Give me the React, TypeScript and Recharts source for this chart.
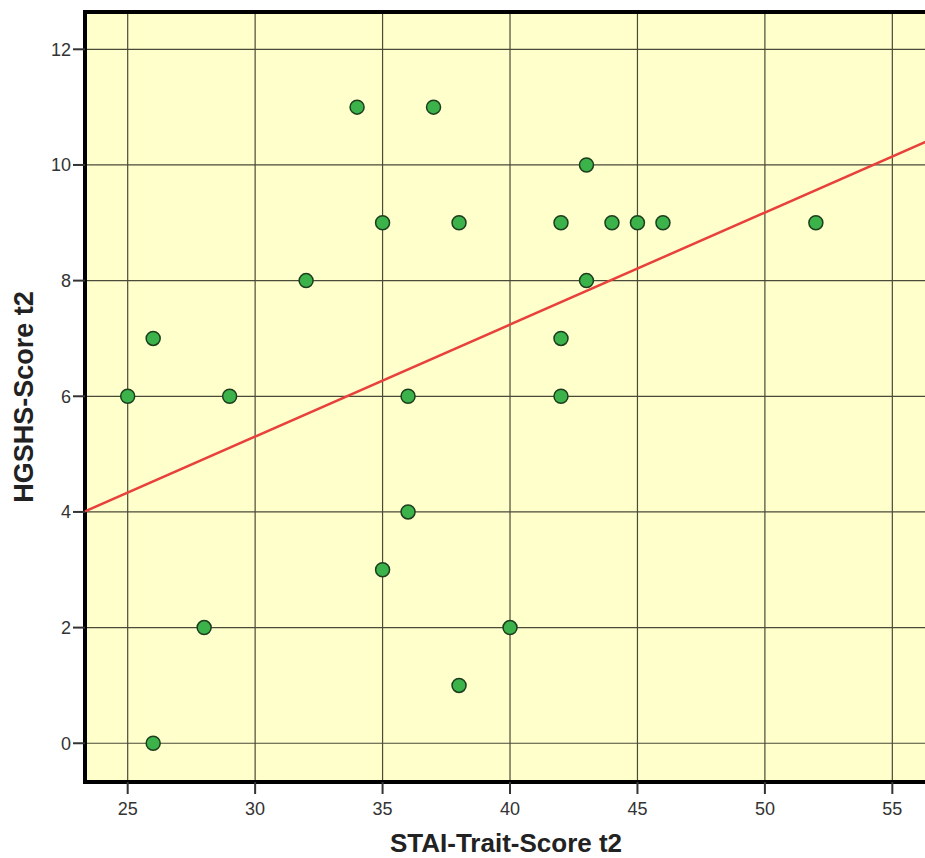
import React from 'react';
import { ScatterChart, Scatter, XAxis, YAxis, CartesianGrid, ReferenceLine, ReferenceArea } from 'recharts';

const stai = [25, 26, 26, 28, 29, 32, 34, 35, 35, 36, 36, 37, 38, 38, 40, 42, 42, 42, 43, 43, 44, 45, 46, 52];
const hgshs = [6, 7, 0, 2, 6, 8, 11, 9, 3, 6, 4, 11, 9, 1, 2, 9, 7, 6, 10, 8, 9, 9, 9, 9];
const xTicks = [25, 30, 35, 40, 45, 50, 55];
const yTicks = [0, 2, 4, 6, 8, 10, 12];
const xDomain = [23.325, 56.36];
const yDomain = [-0.67, 12.645];
// fit line endpoints
const fitLine = [{ x: 23.325, y: 4.01 }, { x: 56.36, y: 10.41 }];

const points = stai.map((x, i) => ({ x, y: hgshs[i] }));

const font = 'Liberation Sans, Arial, sans-serif';
const tickStyle = { fill: '#333', fontSize: 18, fontFamily: font };

const Dot = (props: any) => (
  <circle cx={props.cx} cy={props.cy} r={7} fill="#3cb34a" stroke="#1d3d1d" strokeWidth={1.5} />
);

export default function App() {
  return (
    <div style={{ position: 'absolute', left: 0, top: 0, width: 925, height: 858, overflow: 'hidden', background: '#fff' }}>
      <ScatterChart width={960} height={858} margin={{ top: 12, right: 33, bottom: 0, left: 0 }}>
        <CartesianGrid fill="#ffffcc" fillOpacity={1} stroke="#4a4a38" strokeWidth={1.2} />
        <XAxis
          type="number"
          dataKey="x"
          domain={xDomain}
          ticks={xTicks}
          allowDataOverflow
          height={76}
          tick={tickStyle}
          tickSize={12}
          tickMargin={8}
          tickLine={{ stroke: '#333', strokeWidth: 2 }}
          axisLine={false}
          label={{ value: 'STAI-Trait-Score t2', position: 'insideBottom', offset: 6, style: { fill: '#222', fontSize: 26, fontWeight: 'bold', fontFamily: font } }}
        />
        <YAxis
          type="number"
          dataKey="y"
          domain={yDomain}
          ticks={yTicks}
          allowDataOverflow
          width={85}
          tick={tickStyle}
          tickSize={12}
          tickMargin={2}
          tickLine={{ stroke: '#333', strokeWidth: 2 }}
          axisLine={false}
          label={{ value: 'HGSHS-Score t2', angle: -90, position: 'insideLeft', offset: 23, style: { textAnchor: 'middle', fill: '#222', fontSize: 27, fontWeight: 'bold', fontFamily: font } }}
        />
        <ReferenceArea x1={xDomain[0]} x2={xDomain[1]} y1={yDomain[0]} y2={yDomain[1]} fill="none" stroke="#000" strokeWidth={4} ifOverflow="visible" />
        <ReferenceLine segment={fitLine} stroke="#e8413c" strokeWidth={2.5} ifOverflow="visible" />
        <Scatter data={points} shape={Dot} isAnimationActive={false} />
      </ScatterChart>
    </div>
  );
}
